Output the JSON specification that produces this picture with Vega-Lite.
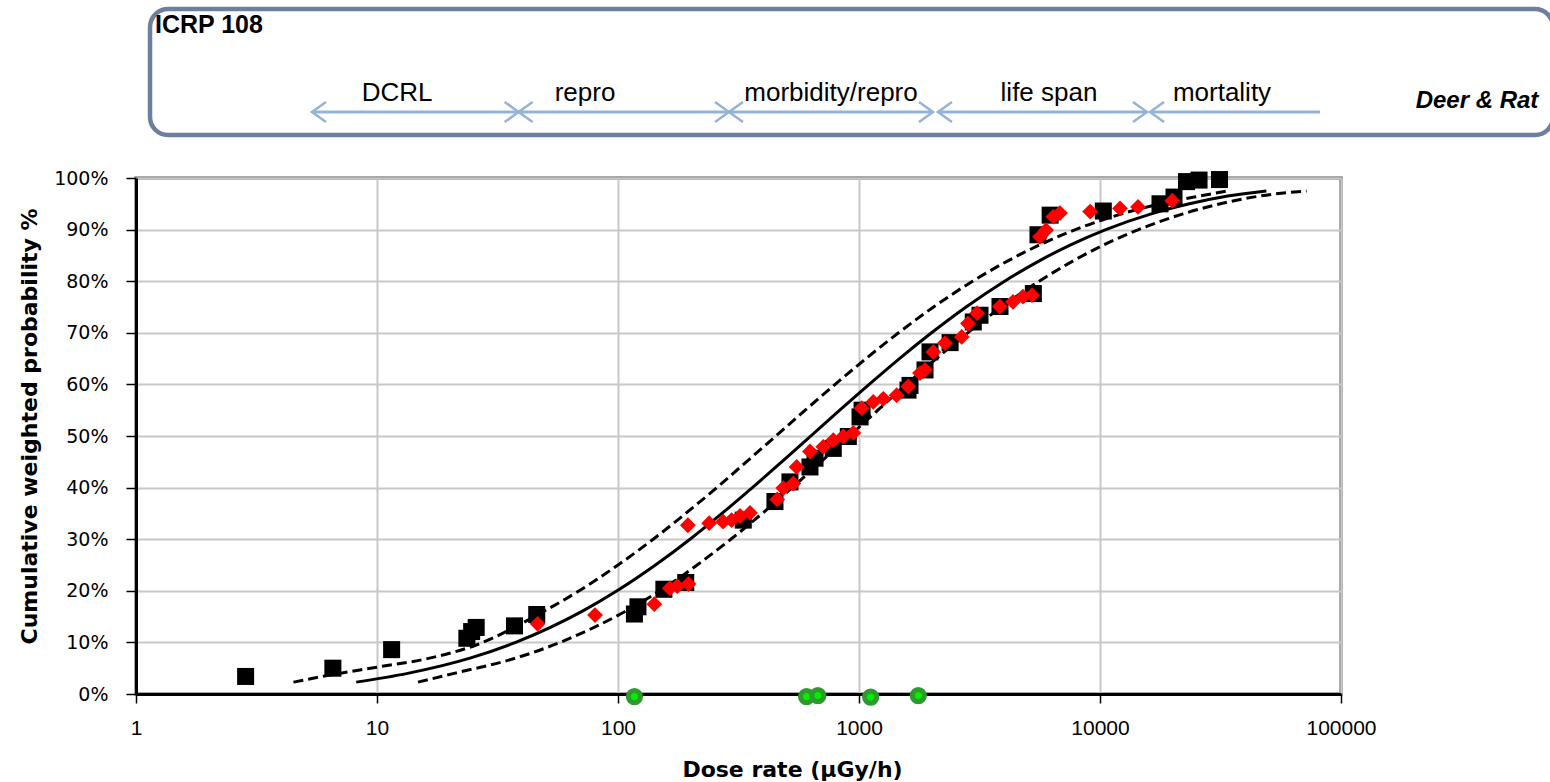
{
  "$schema": "https://vega.github.io/schema/vega-lite/v6.json",
  "width": 1205,
  "height": 516,
  "autosize": {"type": "none"},
  "padding": {"left": 136, "top": 178, "right": 209, "bottom": 88},
  "background": "white",
  "config": {
    "view": {"stroke": "#8C8C8C", "strokeWidth": 3.5},
    "axis": {"labelColor": "black", "titleColor": "black", "domainColor": "black", "tickColor": "black"}
  },
  "datasets": {
    "box": [{"x": 1.1433, "x2": 758300, "p": 1.3275, "p2": 1.0833}],
    "arrows": [
      {"x": 5.374, "x2": 38.70, "p": 1.1279},
      {"x": 38.70, "x2": 288.8, "p": 1.1279},
      {"x": 288.8, "x2": 2028, "p": 1.1279},
      {"x": 2127, "x2": 15670, "p": 1.1279},
      {"x": 16125, "x2": 81810, "p": 1.1279}
    ],
    "heads": [
      {"x": 5.374, "p": 1.1279, "d": "L"},
      {"x": 38.70, "p": 1.1279, "d": "R"},
      {"x": 38.70, "p": 1.1279, "d": "L"},
      {"x": 288.8, "p": 1.1279, "d": "R"},
      {"x": 288.8, "p": 1.1279, "d": "L"},
      {"x": 2028, "p": 1.1279, "d": "R"},
      {"x": 2127, "p": 1.1279, "d": "L"},
      {"x": 15670, "p": 1.1279, "d": "R"},
      {"x": 16125, "p": 1.1279, "d": "L"}
    ],
    "labels": [
      {"x": 12.11, "p": 1.1492, "t": "DCRL"},
      {"x": 72.96, "p": 1.1492, "t": "repro"},
      {"x": 765.4, "p": 1.1492, "t": "morbidity/repro"},
      {"x": 6143, "p": 1.1492, "t": "life span"},
      {"x": 32080, "p": 1.1492, "t": "mortality"}
    ],
    "icrp": [{"x": 1.199, "p": 1.281, "t": "ICRP 108"}],
    "species": [{"x": 366700, "p": 1.1357, "t": "Deer & Rat"}],
    "curves": [
      {"c": "fit", "x": 8.2, "p": 0.023},
      {"c": "fit", "x": 13.4, "p": 0.04},
      {"c": "fit", "x": 24.5, "p": 0.07},
      {"c": "fit", "x": 37.6, "p": 0.1},
      {"c": "fit", "x": 70.9, "p": 0.16},
      {"c": "fit", "x": 99.1, "p": 0.2},
      {"c": "fit", "x": 143, "p": 0.25},
      {"c": "fit", "x": 199, "p": 0.3},
      {"c": "fit", "x": 270, "p": 0.35},
      {"c": "fit", "x": 361, "p": 0.4},
      {"c": "fit", "x": 478, "p": 0.45},
      {"c": "fit", "x": 631, "p": 0.5},
      {"c": "fit", "x": 832, "p": 0.55},
      {"c": "fit", "x": 1102, "p": 0.6},
      {"c": "fit", "x": 1472, "p": 0.65},
      {"c": "fit", "x": 2000, "p": 0.7},
      {"c": "fit", "x": 2782, "p": 0.75},
      {"c": "fit", "x": 4018, "p": 0.8},
      {"c": "fit", "x": 5623, "p": 0.84},
      {"c": "fit", "x": 7515, "p": 0.87},
      {"c": "fit", "x": 10570, "p": 0.9},
      {"c": "fit", "x": 16190, "p": 0.93},
      {"c": "fit", "x": 23500, "p": 0.95},
      {"c": "fit", "x": 33900, "p": 0.965},
      {"c": "fit", "x": 49000, "p": 0.975},
      {"c": "upper", "x": 4.5, "p": 0.023},
      {"c": "upper", "x": 6.6, "p": 0.038},
      {"c": "upper", "x": 10, "p": 0.052},
      {"c": "upper", "x": 16.7, "p": 0.07},
      {"c": "upper", "x": 25.8, "p": 0.095},
      {"c": "upper", "x": 49.1, "p": 0.16},
      {"c": "upper", "x": 69, "p": 0.2},
      {"c": "upper", "x": 100, "p": 0.25},
      {"c": "upper", "x": 140, "p": 0.3},
      {"c": "upper", "x": 191, "p": 0.35},
      {"c": "upper", "x": 257, "p": 0.4},
      {"c": "upper", "x": 341, "p": 0.45},
      {"c": "upper", "x": 452, "p": 0.5},
      {"c": "upper", "x": 598, "p": 0.55},
      {"c": "upper", "x": 796, "p": 0.6},
      {"c": "upper", "x": 1069, "p": 0.65},
      {"c": "upper", "x": 1459, "p": 0.7},
      {"c": "upper", "x": 2039, "p": 0.75},
      {"c": "upper", "x": 2960, "p": 0.8},
      {"c": "upper", "x": 4169, "p": 0.84},
      {"c": "upper", "x": 5597, "p": 0.87},
      {"c": "upper", "x": 7907, "p": 0.9},
      {"c": "upper", "x": 12210, "p": 0.93},
      {"c": "upper", "x": 17810, "p": 0.95},
      {"c": "upper", "x": 25870, "p": 0.965},
      {"c": "upper", "x": 34000, "p": 0.975},
      {"c": "lower", "x": 14.8, "p": 0.023},
      {"c": "lower", "x": 20.9, "p": 0.04},
      {"c": "lower", "x": 37.9, "p": 0.07},
      {"c": "lower", "x": 57.5, "p": 0.1},
      {"c": "lower", "x": 107, "p": 0.16},
      {"c": "lower", "x": 149, "p": 0.2},
      {"c": "lower", "x": 213, "p": 0.25},
      {"c": "lower", "x": 294, "p": 0.3},
      {"c": "lower", "x": 397, "p": 0.35},
      {"c": "lower", "x": 528, "p": 0.4},
      {"c": "lower", "x": 695, "p": 0.45},
      {"c": "lower", "x": 912, "p": 0.5},
      {"c": "lower", "x": 1197, "p": 0.55},
      {"c": "lower", "x": 1574, "p": 0.6},
      {"c": "lower", "x": 2093, "p": 0.65},
      {"c": "lower", "x": 2825, "p": 0.7},
      {"c": "lower", "x": 3900, "p": 0.75},
      {"c": "lower", "x": 5593, "p": 0.8},
      {"c": "lower", "x": 7780, "p": 0.84},
      {"c": "lower", "x": 10330, "p": 0.87},
      {"c": "lower", "x": 14450, "p": 0.9},
      {"c": "lower", "x": 21940, "p": 0.93},
      {"c": "lower", "x": 31600, "p": 0.95},
      {"c": "lower", "x": 46000, "p": 0.965},
      {"c": "lower", "x": 72000, "p": 0.975}
    ],
    "squares": [
      {"x": 2.85, "p": 0.034}, {"x": 6.56, "p": 0.050}, {"x": 11.5, "p": 0.086},
      {"x": 23.6, "p": 0.108}, {"x": 24.7, "p": 0.121}, {"x": 25.8, "p": 0.129},
      {"x": 37.2, "p": 0.132}, {"x": 46.0, "p": 0.154}, {"x": 117, "p": 0.155},
      {"x": 121, "p": 0.169}, {"x": 155, "p": 0.203}, {"x": 191, "p": 0.216},
      {"x": 331, "p": 0.337}, {"x": 448, "p": 0.373}, {"x": 517, "p": 0.411},
      {"x": 626, "p": 0.440}, {"x": 657, "p": 0.457}, {"x": 782, "p": 0.476},
      {"x": 903, "p": 0.499}, {"x": 1010, "p": 0.537}, {"x": 1030, "p": 0.550},
      {"x": 1597, "p": 0.589}, {"x": 1628, "p": 0.598}, {"x": 1879, "p": 0.628},
      {"x": 1971, "p": 0.663}, {"x": 2388, "p": 0.681}, {"x": 2980, "p": 0.721},
      {"x": 3177, "p": 0.734}, {"x": 3846, "p": 0.751}, {"x": 5290, "p": 0.776},
      {"x": 5530, "p": 0.890}, {"x": 6210, "p": 0.928}, {"x": 10320, "p": 0.936},
      {"x": 17740, "p": 0.950}, {"x": 20280, "p": 0.963}, {"x": 22860, "p": 0.993},
      {"x": 25760, "p": 0.996}, {"x": 31330, "p": 0.997}
    ],
    "diamonds": [
      {"x": 46.4, "p": 0.136}, {"x": 80.3, "p": 0.153}, {"x": 141.5, "p": 0.174},
      {"x": 164, "p": 0.205}, {"x": 176, "p": 0.209}, {"x": 196, "p": 0.213},
      {"x": 195, "p": 0.327}, {"x": 239, "p": 0.331}, {"x": 273, "p": 0.334},
      {"x": 296, "p": 0.337}, {"x": 321, "p": 0.345}, {"x": 353, "p": 0.351},
      {"x": 458, "p": 0.377}, {"x": 485, "p": 0.399}, {"x": 534, "p": 0.408},
      {"x": 551, "p": 0.440}, {"x": 626, "p": 0.470}, {"x": 711, "p": 0.479},
      {"x": 782, "p": 0.492}, {"x": 860, "p": 0.499}, {"x": 947, "p": 0.506},
      {"x": 1026, "p": 0.554}, {"x": 1146, "p": 0.566}, {"x": 1261, "p": 0.572},
      {"x": 1433, "p": 0.579}, {"x": 1602, "p": 0.596}, {"x": 1791, "p": 0.622},
      {"x": 1879, "p": 0.628}, {"x": 2034, "p": 0.663}, {"x": 2275, "p": 0.680},
      {"x": 2668, "p": 0.692}, {"x": 2832, "p": 0.718}, {"x": 3089, "p": 0.738},
      {"x": 3846, "p": 0.751}, {"x": 4355, "p": 0.760}, {"x": 4790, "p": 0.770},
      {"x": 5223, "p": 0.773}, {"x": 5637, "p": 0.886}, {"x": 5970, "p": 0.899},
      {"x": 6400, "p": 0.925}, {"x": 6820, "p": 0.932}, {"x": 9100, "p": 0.935},
      {"x": 12110, "p": 0.941}, {"x": 14380, "p": 0.944}, {"x": 19950, "p": 0.956}
    ],
    "circles": [
      {"x": 117, "p": -0.005}, {"x": 606, "p": -0.005}, {"x": 675, "p": -0.003},
      {"x": 1118, "p": -0.006}, {"x": 1762, "p": -0.003}
    ]
  },
  "encoding": {
    "x": {
      "field": "x",
      "type": "quantitative",
      "scale": {"type": "log", "domain": [1, 100000], "nice": false},
      "axis": {
        "title": "Dose rate (µGy/h)",
        "values": [1, 10, 100, 1000, 10000, 100000],
        "format": "d",
        "grid": true,
        "gridColor": "#C8C8C8",
        "gridWidth": 2,
        "domainWidth": 3,
        "tickWidth": 1.5,
        "tickSize": 9,
        "labelFont": "Liberation Sans",
        "labelFontSize": 21,
        "labelPadding": 14,
        "labelFlush": false,
        "labelOverlap": false,
        "titleFont": "DejaVu Sans",
        "titleFontWeight": "bold",
        "titleFontSize": 22,
        "titleX": 656,
        "titleY": 82,
        "titleAlign": "center",
        "titleBaseline": "alphabetic"
      }
    },
    "y": {
      "field": "p",
      "type": "quantitative",
      "scale": {"domain": [0, 1], "nice": false, "zero": false},
      "axis": {
        "title": "Cumulative weighted probability %",
        "values": [0, 0.1, 0.2, 0.3, 0.4, 0.5, 0.6, 0.7, 0.8, 0.9, 1],
        "format": ".0%",
        "grid": true,
        "gridColor": "#C8C8C8",
        "gridWidth": 2,
        "domainWidth": 3,
        "tickWidth": 1.5,
        "tickSize": 10,
        "labelFont": "DejaVu Sans",
        "labelFontSize": 19,
        "labelPadding": 18,
        "labelFlush": false,
        "labelOverlap": false,
        "titleFont": "DejaVu Sans",
        "titleFontWeight": "bold",
        "titleFontSize": 22,
        "titleAngle": 270,
        "titleX": -100,
        "titleY": 248,
        "titleAlign": "center",
        "titleBaseline": "alphabetic"
      }
    }
  },
  "layer": [
    {
      "data": {"name": "box"},
      "mark": {"type": "rect", "cornerRadius": 18, "fill": "white", "fillOpacity": 0, "stroke": "#6C7F9E", "strokeWidth": 4.5},
      "encoding": {"x2": {"field": "x2"}, "y2": {"field": "p2"}}
    },
    {
      "data": {"name": "arrows"},
      "mark": {"type": "rule", "color": "#95B3D7", "strokeWidth": 3},
      "encoding": {"x2": {"field": "x2"}}
    },
    {
      "data": {"name": "heads"},
      "mark": {"type": "point", "filled": false, "color": "#95B3D7", "strokeWidth": 2.5, "size": 400, "opacity": 1},
      "encoding": {
        "shape": {
          "field": "d",
          "type": "nominal",
          "scale": {"domain": ["L", "R"], "range": ["M1.4,-1L0,0L1.4,1", "M-1.4,-1L0,0L-1.4,1"]},
          "legend": null
        }
      }
    },
    {
      "data": {"name": "labels"},
      "mark": {"type": "text", "font": "Liberation Sans", "fontSize": 26, "color": "black", "align": "center", "baseline": "alphabetic"},
      "encoding": {"text": {"field": "t"}}
    },
    {
      "data": {"name": "icrp"},
      "mark": {"type": "text", "font": "Liberation Sans", "fontSize": 25, "fontWeight": "bold", "color": "black", "align": "left", "baseline": "alphabetic"},
      "encoding": {"text": {"field": "t"}}
    },
    {
      "data": {"name": "species"},
      "mark": {"type": "text", "font": "Liberation Sans", "fontSize": 24, "fontWeight": "bold", "fontStyle": "italic", "color": "black", "align": "center", "baseline": "alphabetic"},
      "encoding": {"text": {"field": "t"}}
    },
    {
      "data": {"name": "curves"},
      "transform": [{"filter": "datum.c === 'fit'"}],
      "mark": {"type": "line", "interpolate": "monotone", "color": "black", "strokeWidth": 3}
    },
    {
      "data": {"name": "curves"},
      "transform": [{"filter": "datum.c !== 'fit'"}],
      "mark": {"type": "line", "interpolate": "monotone", "color": "black", "strokeWidth": 3, "strokeDash": [10, 5]},
      "encoding": {"detail": {"field": "c", "type": "nominal"}}
    },
    {
      "data": {"name": "squares"},
      "mark": {"type": "square", "color": "black", "size": 290, "opacity": 1}
    },
    {
      "data": {"name": "diamonds"},
      "mark": {"type": "point", "shape": "diamond", "filled": true, "color": "#FF0000", "size": 250, "opacity": 1}
    },
    {
      "data": {"name": "circles"},
      "mark": {"type": "point", "shape": "circle", "filled": true, "fill": "#00F000", "stroke": "#2E9A2E", "strokeWidth": 5, "size": 150, "opacity": 1}
    }
  ]
}
